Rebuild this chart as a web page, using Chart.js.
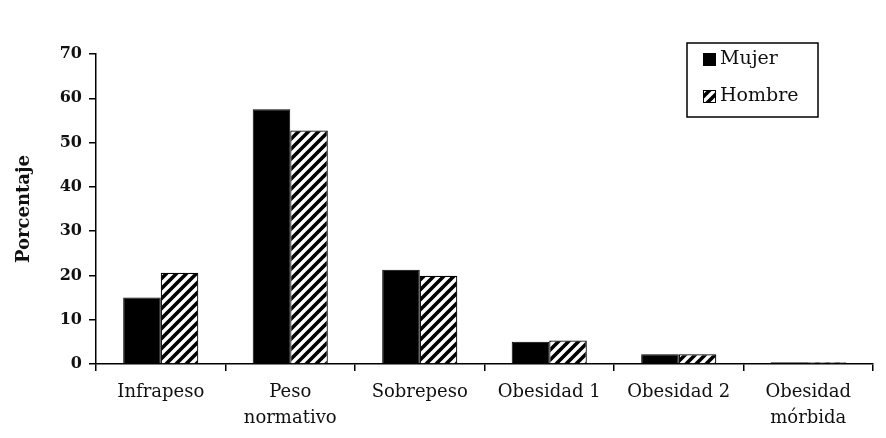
<!DOCTYPE html>
<html>
<head>
<meta charset="utf-8">
<script src="https://cdn.jsdelivr.net/npm/chart.js@4"></script>
<style>
  html, body { margin: 0; padding: 0; background: #fff; }
  #wrap { width: 886px; height: 438px; }
</style>
</head>
<body>
<div id="wrap"><canvas id="grafico"></canvas></div>
<script>
const categorias = [["Infrapeso"], ["Peso", "normativo"], ["Sobrepeso"], ["Obesidad 1"], ["Obesidad 2"], ["Obesidad", "mórbida"]];
const mujer = [15.0, 57.5, 21.3, 5.0, 2.2, 0.4];
const hombre = [20.6, 52.7, 19.9, 5.3, 2.2, 0.4];
const series = ["Mujer", "Hombre"];

const fuente = "'DejaVu Serif', serif";

// rayado diagonal para la serie Hombre
function rayado() {
  const c = document.createElement('canvas');
  c.width = 10; c.height = 10;
  const g = c.getContext('2d');
  g.fillStyle = '#fff';
  g.fillRect(0, 0, 10, 10);
  g.strokeStyle = '#000';
  g.lineWidth = 3.6;
  g.beginPath();
  g.moveTo(-2, 12); g.lineTo(12, -2);
  g.moveTo(-7, 7); g.lineTo(7, -7);
  g.moveTo(3, 17); g.lineTo(17, 3);
  g.stroke();
  return g.createPattern(c, 'repeat');
}
const patron = rayado();

// leyenda con marco, como en el original
const leyendaCaja = {
  id: 'leyendaCaja',
  afterDraw(chart) {
    const ctx = chart.ctx;
    ctx.save();
    ctx.strokeStyle = '#000';
    ctx.lineWidth = 1.5;
    ctx.strokeRect(687, 43, 131, 74);
    chart.data.datasets.forEach((ds, i) => {
      const y = 53 + i * 37;
      ctx.fillStyle = ds.backgroundColor;
      ctx.fillRect(703, y, 13, 13);
      ctx.lineWidth = 1;
      ctx.strokeRect(703.5, y + 0.5, 12, 12);
      ctx.fillStyle = '#111';
      ctx.font = "19px " + fuente;
      ctx.textBaseline = 'middle';
      ctx.fillText(ds.label, 720, y + 6);
    });
    ctx.restore();
  }
};

new Chart(document.getElementById('grafico'), {
  type: 'bar',
  data: {
    labels: categorias,
    datasets: [
      { label: series[0], data: mujer, backgroundColor: '#000', borderColor: '#000', borderWidth: 1 },
      { label: series[1], data: hombre, backgroundColor: patron, borderColor: '#000', borderWidth: 1.2 }
    ]
  },
  options: {
    responsive: true,
    maintainAspectRatio: false,
    animation: false,
    categoryPercentage: 0.58,
    barPercentage: 1,
    layout: { padding: { top: 54, right: 13, left: 10, bottom: 0 } },
    plugins: {
      legend: { display: false },
      tooltip: { enabled: false }
    },
    scales: {
      x: {
        grid: { drawOnChartArea: false, drawTicks: true, tickLength: 7, color: '#000', lineWidth: 1.5, offset: true },
        border: { color: '#000', width: 1.5 },
        ticks: { color: '#111', font: { family: fuente, size: 18, lineHeight: 1.45 }, padding: 8, maxRotation: 0, autoSkip: false },
        afterFit(scale) { scale.height = 74; }
      },
      y: {
        min: 0,
        max: 70,
        ticks: { stepSize: 10, color: '#111', font: { family: fuente, size: 16, weight: 'bold' }, padding: 7 },
        grid: { drawOnChartArea: false, drawTicks: true, tickLength: 7, color: '#000', lineWidth: 1.5 },
        border: { color: '#000', width: 1.5 },
        title: { display: true, text: 'Porcentaje', color: '#111', font: { family: fuente, size: 18, weight: 'bold' }, padding: { bottom: 10 } },
        afterFit(scale) { scale.width = 86; }
      }
    }
  },
  plugins: [leyendaCaja]
});
</script>
</body>
</html>
